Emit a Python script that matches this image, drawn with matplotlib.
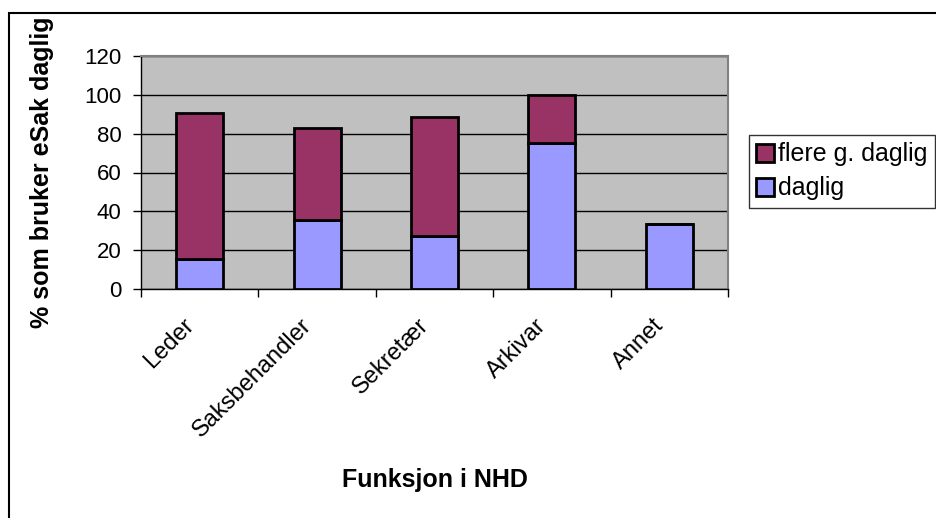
import numpy as np
import matplotlib.pyplot as plt
from matplotlib.patches import Rectangle

plt.rcParams['font.family'] = ['Liberation Sans', 'DejaVu Sans']

# share of users per role (percent)
roles = ["Leder", "Saksbehandler", "Sekretær", "Arkivar", "Annet"]
daglig = [15.2, 35.6, 27.5, 75.0, 33.3]
flere_daglig = [75.7, 47.5, 61.0, 25.0, 0.0]

y_ticks = [0, 20, 40, 60, 80, 100, 120]

fig = plt.figure(figsize=(9.37, 5.18), dpi=100)
ax = fig.add_axes([141 / 937, 1 - 289 / 518, (728 - 141) / 937, (289 - 56) / 518])

x = np.arange(len(roles))
ax.set_facecolor("#C0C0C0")
ax.bar(x, daglig, width=0.4, color="#9999FF", edgecolor="black", linewidth=2,
       label="daglig", zorder=3)
ax.bar(x, flere_daglig, width=0.4, bottom=daglig, color="#993366",
       edgecolor="black", linewidth=2, label="flere g. daglig", zorder=3)

ax.set_xlim(-0.5, len(roles) - 0.5)
ax.set_ylim(0, 120)
ax.set_yticks(y_ticks)
ax.yaxis.grid(True, color="black", linewidth=1, zorder=1)

# slanted category labels end just left of each bar centre;
# the visible tick marks sit on the category boundaries
ax.set_xticks(x - 0.08)
ax.set_xticklabels(roles, rotation=45, ha="right", va="center",
                   rotation_mode="anchor", fontsize=17)
ax.set_xticks(np.arange(-0.5, len(roles)), minor=True)
ax.tick_params(axis="x", which="major", length=0, pad=24)
ax.tick_params(axis="x", which="minor", length=6, width=1, direction="out")
ax.tick_params(axis="y", length=6, width=1, labelsize=16, pad=8)

for side in ["top", "right"]:
    ax.spines[side].set_color("#808080")
    ax.spines[side].set_linewidth(1.5)
for side in ["left", "bottom"]:
    ax.spines[side].set_color("black")
    ax.spines[side].set_linewidth(1)

ax.set_ylabel("% som bruker eSak daglig", fontsize=18, fontweight="bold", labelpad=22)
ax.set_xlabel("Funksjon i NHD", fontsize=18, fontweight="bold", labelpad=19)

handles, labels = ax.get_legend_handles_labels()
leg = fig.legend(handles[::-1], labels[::-1], loc="upper left",
                 bbox_to_anchor=(749 / 937, 1 - 135 / 518), fontsize=18,
                 frameon=True, fancybox=False, edgecolor="black",
                 handlelength=0.7, handleheight=0.7, handletextpad=0.15,
                 borderpad=0.3, labelspacing=0.4, borderaxespad=0)
leg.get_frame().set_linewidth(1)

# outer chart frame (left and top edges visible)
fig.patches.append(Rectangle((9 / 937, -0.1), 1.2, 1.1 - 13 / 518, fill=False,
                             edgecolor="black", linewidth=1.5,
                             transform=fig.transFigure))

fig.savefig("out.png", dpi=100)
